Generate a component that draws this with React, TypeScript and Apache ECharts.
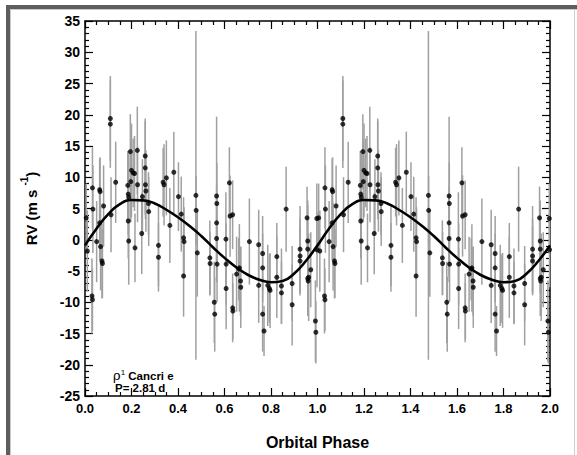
import React, { useEffect, useRef } from "react";
import * as echarts from "echarts";

// Observed orbital phase (0..1), radial velocity (m/s) and 1-sigma error
const PHASES = [
  0.005, 0.01, 0.032, 0.034, 0.03, 0.032, 0.05, 0.063, 0.065, 0.063, 0.067, 0.073, 0.075, 0.08,
  0.109, 0.109, 0.112, 0.132, 0.184, 0.186, 0.188, 0.186, 0.188, 0.195, 0.2, 0.207, 0.213, 0.197,
  0.215, 0.225, 0.226, 0.244, 0.247, 0.259, 0.259, 0.26, 0.262, 0.273, 0.274, 0.316, 0.316, 0.336,
  0.34, 0.35, 0.365, 0.382, 0.402, 0.414, 0.424, 0.426, 0.424, 0.477, 0.478, 0.483, 0.537, 0.538,
  0.556, 0.558, 0.566, 0.567, 0.566, 0.566, 0.568, 0.606, 0.607, 0.607, 0.621, 0.624, 0.635, 0.635,
  0.636, 0.652, 0.661, 0.664, 0.669, 0.67, 0.707, 0.747, 0.747, 0.764, 0.764, 0.764, 0.77, 0.786,
  0.793, 0.796, 0.825, 0.825, 0.845, 0.845, 0.865, 0.891, 0.891, 0.925, 0.925, 0.925, 0.955, 0.958,
  0.958, 0.958, 0.96, 0.962, 0.971, 0.997, 0.998, 0.991, 0.993,
];
const RV = [
  3.5, -1.8, 8.3, 4.9, -9.0, -9.6, -0.3, 8.0, 7.7, 2.7, -1.1, -3.4, -3.8, 5.4,
  19.4, 18.5, 4.0, 9.2, 8.7, 7.3, 6.8, 3.0, -0.2, 14.1, 11.1, 10.7, 10.6, 9.3,
  -1.3, 14.3, 8.8, 1.0, 6.9, 13.4, 11.5, 8.8, 7.8, 5.8, 4.5, -0.9, -2.8, 9.2,
  8.8, 9.9, 2.3, 10.8, 6.9, 4.1, 0.3, -0.3, -5.8, 7.1, 4.7, -2.1, -2.9, -3.8,
  -10.0, -11.9, 7.0, 5.8, 2.7, 0.2, -3.9, 0.1, -3.9, -7.8, 9.1, 3.8, 4.0, -10.9,
  -11.4, -5.5, -4.7, -4.5, -6.6, -7.6, -0.3, -0.8, -7.3, -2.2, -4.5, -11.9, -14.6, -7.3,
  -7.8, -8.1, -2.7, -6.0, -7.4, -8.5, 4.9, -7.0, -10.4, -1.5, -2.6, -3.4, 3.5, -0.2,
  -1.5, -6.2, -6.6, -6.0, -4.8, 3.4, -1.6, -13.0, -14.8,
];
const ERR = [
  5.5, 6.5, 6.5, 7.0, 6.0, 5.0, 6.5, 5.0, 5.5, 6.0, 7.0, 6.0, 5.5, 6.5,
  6.8, 7.0, 6.0, 6.5, 5.5, 6.5, 7.0, 6.0, 7.0, 6.0, 7.5, 5.5, 6.0, 6.5,
  5.5, 7.0, 6.0, 6.5, 6.0, 6.0, 7.5, 5.5, 6.5, 5.0, 5.5, 6.5, 5.5, 5.5,
  6.5, 6.0, 6.0, 6.5, 5.5, 6.0, 6.5, 5.5, 6.5, 26.3, 5.5, 7.0, 6.0, 5.0,
  6.5, 6.0, 12.7, 6.5, 6.0, 7.0, 6.0, 7.5, 6.5, 6.5, 5.7, 6.5, 5.5, 5.5,
  4.5, 6.0, 5.0, 7.0, 5.5, 6.5, 6.9, 5.6, 6.0, 6.0, 5.5, 6.0, 4.0, 6.5,
  5.5, 6.0, 5.4, 6.5, 6.0, 5.0, 6.8, 6.0, 6.5, 6.9, 6.0, 5.5, 5.0, 6.5,
  7.0, 6.0, 5.5, 7.0, 6.0, 5.6, 6.0, 6.5, 5.0,
];

// Best-fit curve, phase 0..1 in steps of 0.05
const FIT_PHASE = [
  0, 0.05, 0.1, 0.15, 0.2, 0.25, 0.3, 0.35, 0.4, 0.45, 0.5,
  0.55, 0.6, 0.65, 0.7, 0.75, 0.8, 0.85, 0.9, 0.95, 1.0,
];
const FIT_RV = [
  -0.9, 1.8, 4.1, 5.7, 6.35, 6.3, 5.8, 4.8, 3.6, 2.2, 0.6,
  -1.2, -2.9, -4.4, -5.6, -6.4, -6.8, -6.6, -5.4, -3.4, -0.9,
];

const CYCLES = [0, 1];
const X_TICKS = { min: 0, max: 2, interval: 0.2 };
const Y_TICKS = { min: -25, max: 35, interval: 5 };

const FONT = "'Liberation Sans', Arial, Helvetica, sans-serif";

export default function App() {
  const ref = useRef<HTMLDivElement>(null);

  useEffect(() => {
    if (!ref.current) return;
    const chart = echarts.init(ref.current, undefined, { renderer: "svg" });

    const points: number[][] = [];
    CYCLES.forEach((c) => {
      PHASES.forEach((p, i) => points.push([p + c, RV[i], ERR[i]]));
    });
    const fit: number[][] = [];
    CYCLES.forEach((c) => {
      FIT_PHASE.forEach((p, i) => {
        if (c > 0 && i === 0) return;
        fit.push([p + c, FIT_RV[i]]);
      });
    });

    const tickCommon = {
      axisLine: { show: true, onZero: false, lineStyle: { color: "#000", width: 1.5 } },
      axisTick: { show: true, inside: true, length: 8, lineStyle: { color: "#000", width: 1.2 } },
      splitLine: { show: false },
    };

    chart.setOption({
      animation: false,
      backgroundColor: "#ffffff",
      grid: { left: 85, right: 27, top: 21, bottom: 44, containLabel: false },
      xAxis: [
        {
          type: "value",
          ...X_TICKS,
          position: "bottom",
          ...tickCommon,
          minorTick: { show: true, splitNumber: 4, length: 4, lineStyle: { color: "#000", width: 1.2 } },
          axisLabel: {
            show: true,
            margin: 6,
            color: "#000",
            fontFamily: FONT,
            fontWeight: "bold",
            fontSize: 13,
            formatter: (v: number) => v.toFixed(1),
          },
          name: "Orbital Phase",
          nameLocation: "middle",
          nameGap: 38,
          nameTextStyle: { color: "#000", fontFamily: FONT, fontWeight: "bold", fontSize: 16 },
        },
        {
          type: "value",
          ...X_TICKS,
          position: "top",
          ...tickCommon,
          minorTick: { show: true, splitNumber: 4, length: 4, lineStyle: { color: "#000", width: 1.2 } },
          axisLabel: { show: false },
        },
      ],
      yAxis: [
        {
          type: "value",
          ...Y_TICKS,
          position: "left",
          ...tickCommon,
          minorTick: { show: true, splitNumber: 5, length: 4, lineStyle: { color: "#000", width: 1.2 } },
          axisLabel: {
            show: true,
            margin: 5,
            color: "#000",
            fontFamily: FONT,
            fontWeight: "bold",
            fontSize: 14,
          },
          name: "{a|RV (m s }{s|-1}{a|)}",
          nameLocation: "middle",
          nameRotate: 90,
          nameGap: 46,
          nameTextStyle: {
            rich: {
              a: { fontFamily: FONT, fontWeight: "bold", fontSize: 15, color: "#000", lineHeight: 18, verticalAlign: "bottom" },
              s: { fontFamily: FONT, fontWeight: "bold", fontSize: 10, color: "#000", lineHeight: 12, padding: [0, 0, 10, 0], verticalAlign: "bottom" },
            },
          },
        },
        {
          type: "value",
          ...Y_TICKS,
          position: "right",
          ...tickCommon,
          minorTick: { show: true, splitNumber: 5, length: 4, lineStyle: { color: "#000", width: 1.2 } },
          axisLabel: { show: false },
        },
      ],
      series: [
        {
          type: "custom",
          xAxisIndex: 0,
          yAxisIndex: 0,
          z: 1,
          data: points,
          encode: { x: 0, y: 1 },
          renderItem: (_params: any, api: any) => {
            const x = api.value(0);
            const y = api.value(1);
            const e = api.value(2);
            const p1 = api.coord([x, y + e]);
            const p2 = api.coord([x, y - e]);
            return {
              type: "line",
              shape: { x1: p1[0], y1: p1[1], x2: p2[0], y2: p2[1] },
              style: { stroke: "#a0a0a0", lineWidth: 1.5 },
            };
          },
        },
        {
          type: "scatter",
          xAxisIndex: 0,
          yAxisIndex: 0,
          z: 2,
          symbol: "circle",
          symbolSize: 5,
          itemStyle: { color: "#000" },
          data: points.map((p) => [p[0], p[1]]),
        },
        {
          type: "line",
          xAxisIndex: 0,
          yAxisIndex: 0,
          z: 3,
          smooth: 0.5,
          showSymbol: false,
          symbol: "none",
          lineStyle: { color: "#000", width: 2.6 },
          data: fit,
        },
      ],
      graphic: [
        { type: "rect", shape: { x: 6, y: 5, width: 571, height: 4 }, style: { fill: "#5e5e5e" }, silent: true },
        { type: "rect", shape: { x: 6, y: 5, width: 4, height: 450 }, style: { fill: "#5e5e5e" }, silent: true },
        { type: "line", shape: { x1: 10.5, y1: 9.5, x2: 577, y2: 9.5 }, style: { stroke: "#c8c8c8", lineWidth: 1 }, silent: true },
        { type: "line", shape: { x1: 10.5, y1: 9.5, x2: 10.5, y2: 455 }, style: { stroke: "#c8c8c8", lineWidth: 1 }, silent: true },
        { type: "line", shape: { x1: 574.5, y1: 9, x2: 574.5, y2: 455 }, style: { stroke: "#cfcfcf", lineWidth: 1 }, silent: true },
        {
          type: "text",
          x: 113,
          y: 368,
          style: {
            text: "{r|ρ}{s|1}{t| Cancri e}",
            rich: {
              r: { fontFamily: "'DejaVu Serif', 'Liberation Serif', serif", fontSize: 13, fill: "#000", lineHeight: 14, verticalAlign: "bottom" },
              s: { fontFamily: FONT, fontSize: 8, fill: "#000", lineHeight: 9, padding: [0, 0, 6, 0], verticalAlign: "bottom" },
              t: { fontFamily: FONT, fontWeight: "bold", fontSize: 11.5, fill: "#000", lineHeight: 14, verticalAlign: "bottom" },
            },
          },
        },
        {
          type: "text",
          x: 115,
          y: 382,
          style: { text: "P= 2.81 d", fontFamily: FONT, fontWeight: "bold", fontSize: 11.5, fill: "#000" },
        },
      ],
    });

    return () => chart.dispose();
  }, []);

  return (
    <div
      ref={ref}
      style={{ position: "absolute", left: 0, top: 0, width: 577, height: 455, background: "#fff" }}
    />
  );
}
